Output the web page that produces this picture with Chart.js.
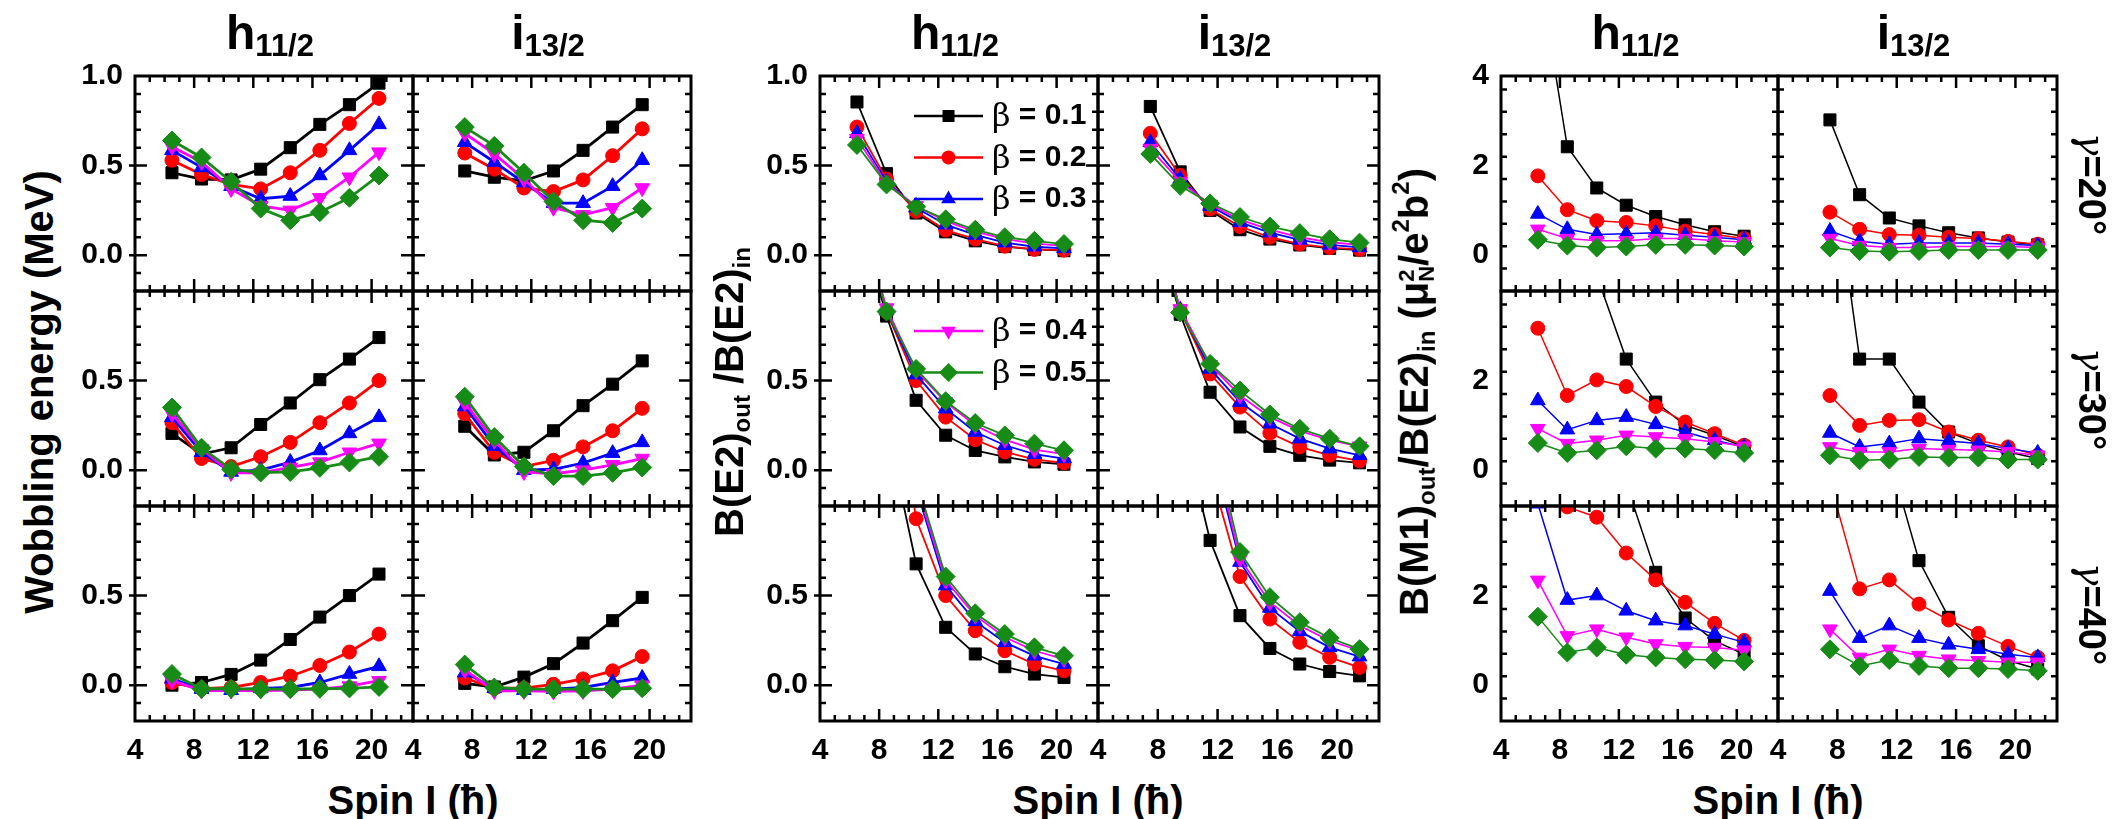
<!DOCTYPE html>
<html>
<head>
<meta charset="utf-8">
<title>Wobbling energy and transition ratios</title>
<script src="https://cdn.jsdelivr.net/npm/chart.js@4.4.1/dist/chart.umd.min.js"></script>
<style>
  html, body { margin: 0; padding: 0; background: #fff; }
  #fig { position: relative; width: 2114px; height: 819px; overflow: hidden;
         font-family: "Liberation Sans", Arial, sans-serif; font-weight: bold; color: #000; }
  #fig canvas { position: absolute; }
  .lbl { position: absolute; white-space: nowrap; line-height: 1; }
  .col { font-size: 48px; transform: translateX(-50%); top: 9px; }
  .col sub { font-size: 31px; vertical-align: -7px; line-height: 0; }
  .ytl { font-size: 40px; transform: translate(-50%, -50%) rotate(-90deg); }
  .ytl sub, .ytl sup { font-size: 0.6em; line-height: 0; }
  .ytl sub { vertical-align: -0.3em; }
  .ytl sup { vertical-align: 0.8em; }
  .mu2 { display: inline-flex; flex-direction: column; font-size: 0.55em; line-height: 0.95; vertical-align: middle; }
  .xtl { font-size: 40px; transform: translate(-50%, -50%); }
  .gam { font-size: 38px; transform: translate(-50%, -50%) rotate(90deg); }
  .gam i { font-family: "DejaVu Serif", serif; font-weight: normal; }
</style>
</head>
<body>
<div id="fig"></div>
<script>
// Spin values (hbar) of the bands
const spinH = [6.5, 8.5, 10.5, 12.5, 14.5, 16.5, 18.5, 20.5];
const spinI = [7.5, 9.5, 11.5, 13.5, 15.5, 17.5, 19.5];
const spinI2 = [7.5, 9.5, 11.5, 13.5, 15.5, 17.5, 19.5, 21.5];

const betas = ['β = 0.1', 'β = 0.2', 'β = 0.3', 'β = 0.4', 'β = 0.5'];
const gammas = ['γ=20°', 'γ=30°', 'γ=40°'];
const xTickVals = [4, 8, 12, 16, 20];
const eTickVals = [0, 0.5, 1.0];
const mTickVals = [0, 2, 4];

// Wobbling energy (MeV), one row per beta (0.1 ... 0.5)
const eH20 = [
  [0.46, 0.425, 0.42, 0.48, 0.60, 0.73, 0.84, 0.96],
  [0.53, 0.45, 0.395, 0.37, 0.46, 0.585, 0.735, 0.875],
  [0.585, 0.49, 0.385, 0.315, 0.33, 0.445, 0.585, 0.73],
  [0.605, 0.52, 0.37, 0.275, 0.25, 0.32, 0.435, 0.575],
  [0.64, 0.545, 0.41, 0.26, 0.195, 0.24, 0.32, 0.445]
];
const eI20 = [
  [0.47, 0.435, 0.415, 0.47, 0.585, 0.715, 0.84],
  [0.57, 0.48, 0.375, 0.355, 0.42, 0.555, 0.705],
  [0.63, 0.52, 0.405, 0.29, 0.29, 0.385, 0.53],
  [0.68, 0.565, 0.425, 0.265, 0.225, 0.265, 0.375],
  [0.715, 0.61, 0.46, 0.30, 0.195, 0.18, 0.26]
];
const eH30 = [
  [0.205, 0.09, 0.125, 0.255, 0.375, 0.505, 0.62, 0.74],
  [0.265, 0.065, 0.02, 0.075, 0.155, 0.265, 0.375, 0.50],
  [0.295, 0.10, -0.01, 0.0, 0.045, 0.11, 0.205, 0.295],
  [0.315, 0.12, -0.015, -0.015, 0.015, 0.045, 0.10, 0.15],
  [0.35, 0.125, 0.005, -0.013, -0.01, 0.013, 0.043, 0.075]
];
const eI30 = [
  [0.245, 0.085, 0.10, 0.22, 0.36, 0.48, 0.61],
  [0.315, 0.10, 0.02, 0.055, 0.13, 0.22, 0.345],
  [0.355, 0.135, 0.0, 0.005, 0.04, 0.095, 0.155],
  [0.375, 0.165, -0.01, -0.02, 0.0, 0.03, 0.065],
  [0.41, 0.185, 0.02, -0.033, -0.033, -0.015, 0.015]
];
const eH40 = [
  [0.0, 0.015, 0.06, 0.14, 0.255, 0.38, 0.50, 0.62],
  [0.015, -0.02, -0.013, 0.015, 0.05, 0.11, 0.185, 0.285],
  [0.035, -0.022, -0.028, -0.018, -0.013, 0.015, 0.062, 0.105],
  [0.025, -0.03, -0.03, -0.03, -0.028, -0.022, -0.005, 0.025],
  [0.062, -0.02, -0.02, -0.022, -0.022, -0.02, -0.018, -0.01]
];
const eI40 = [
  [0.01, -0.01, 0.045, 0.12, 0.235, 0.36, 0.49],
  [0.04, -0.017, -0.017, 0.005, 0.035, 0.08, 0.16],
  [0.07, -0.017, -0.028, -0.022, -0.013, 0.015, 0.04],
  [0.085, -0.032, -0.032, -0.035, -0.032, -0.022, 0.0],
  [0.115, -0.013, -0.022, -0.022, -0.022, -0.022, -0.017]
];

// B(E2)out / B(E2)in
const bH20 = [
  [0.855, 0.455, 0.235, 0.13, 0.08, 0.048, 0.032, 0.025],
  [0.715, 0.425, 0.245, 0.14, 0.09, 0.05, 0.032, 0.028],
  [0.68, 0.41, 0.265, 0.17, 0.113, 0.07, 0.047, 0.038],
  [0.65, 0.40, 0.275, 0.19, 0.132, 0.09, 0.066, 0.051],
  [0.615, 0.395, 0.27, 0.20, 0.142, 0.10, 0.08, 0.062]
];
const bI20 = [
  [0.83, 0.465, 0.25, 0.142, 0.09, 0.057, 0.038, 0.028],
  [0.68, 0.445, 0.258, 0.16, 0.10, 0.062, 0.042, 0.032],
  [0.63, 0.425, 0.274, 0.183, 0.126, 0.085, 0.057, 0.043],
  [0.595, 0.41, 0.283, 0.198, 0.142, 0.10, 0.072, 0.057],
  [0.565, 0.387, 0.289, 0.213, 0.16, 0.123, 0.089, 0.07]
];
const bH30 = [
  [1.45, 0.86, 0.39, 0.195, 0.11, 0.074, 0.046, 0.033],
  [1.5, 0.885, 0.50, 0.296, 0.17, 0.102, 0.06, 0.041],
  [1.5, 0.89, 0.533, 0.343, 0.213, 0.139, 0.089, 0.065],
  [1.5, 0.905, 0.556, 0.38, 0.25, 0.17, 0.115, 0.089],
  [1.5, 0.885, 0.565, 0.385, 0.263, 0.194, 0.148, 0.111]
];
const bI30 = [
  [1.45, 0.87, 0.435, 0.241, 0.133, 0.083, 0.056, 0.041],
  [1.5, 0.89, 0.537, 0.352, 0.207, 0.13, 0.083, 0.052],
  [1.5, 0.895, 0.565, 0.38, 0.259, 0.176, 0.12, 0.083],
  [1.5, 0.9, 0.589, 0.417, 0.296, 0.219, 0.167, 0.133],
  [1.5, 0.88, 0.593, 0.444, 0.311, 0.231, 0.176, 0.133]
];
const bH40 = [
  [3.0, 1.45, 0.677, 0.323, 0.174, 0.103, 0.062, 0.043],
  [4.0, 2.0, 0.929, 0.50, 0.304, 0.192, 0.118, 0.08],
  [4.0, 2.2, 1.1, 0.556, 0.356, 0.239, 0.164, 0.118],
  [4.0, 2.2, 1.12, 0.584, 0.388, 0.267, 0.192, 0.146],
  [4.0, 2.2, 1.15, 0.606, 0.401, 0.285, 0.211, 0.164]
];
const bI40 = [
  [3.0, 1.5, 0.808, 0.388, 0.205, 0.118, 0.076, 0.052],
  [4.0, 2.0, 1.2, 0.606, 0.369, 0.239, 0.155, 0.099],
  [4.0, 2.2, 1.35, 0.687, 0.431, 0.30, 0.211, 0.159],
  [4.0, 2.2, 1.4, 0.705, 0.463, 0.332, 0.248, 0.192],
  [4.0, 2.2, 1.45, 0.743, 0.491, 0.351, 0.263, 0.201]
];

// B(M1)out / B(E2)in  (muN^2 / e^2 b^2)
const mH20 = [
  [6.5, 2.42, 1.5, 1.115, 0.862, 0.677, 0.523, 0.423],
  [1.77, 1.015, 0.77, 0.73, 0.654, 0.538, 0.46, 0.37],
  [0.92, 0.577, 0.46, 0.477, 0.50, 0.446, 0.40, 0.346],
  [0.577, 0.37, 0.323, 0.323, 0.37, 0.37, 0.323, 0.292],
  [0.346, 0.215, 0.169, 0.192, 0.23, 0.23, 0.215, 0.192]
];
const mI20 = [
  [3.02, 1.35, 0.83, 0.654, 0.50, 0.385, 0.292, 0.23],
  [0.96, 0.577, 0.46, 0.446, 0.40, 0.37, 0.308, 0.246],
  [0.538, 0.308, 0.246, 0.27, 0.27, 0.27, 0.246, 0.215],
  [0.37, 0.215, 0.169, 0.169, 0.192, 0.192, 0.192, 0.169],
  [0.169, 0.092, 0.077, 0.092, 0.115, 0.115, 0.115, 0.115]
];
const mH30 = [
  [10, 7, 4.35, 2.48, 1.52, 1.0, 0.778, 0.52],
  [3.17, 1.667, 2.015, 1.867, 1.422, 1.074, 0.815, 0.556],
  [1.556, 0.904, 1.111, 1.185, 1.022, 0.852, 0.667, 0.519],
  [0.926, 0.593, 0.667, 0.778, 0.741, 0.704, 0.63, 0.533],
  [0.607, 0.385, 0.444, 0.533, 0.481, 0.481, 0.444, 0.385]
];
const mI30 = [
  [7.3, 2.48, 2.48, 1.52, 0.852, 0.593, 0.407, 0.259],
  [1.667, 1.0, 1.111, 1.126, 0.852, 0.667, 0.519, 0.333],
  [0.83, 0.519, 0.593, 0.704, 0.652, 0.593, 0.481, 0.385],
  [0.519, 0.407, 0.407, 0.481, 0.459, 0.444, 0.407, 0.333],
  [0.333, 0.222, 0.237, 0.296, 0.281, 0.281, 0.237, 0.237]
];
const mH40 = [
  [14, 10, 7, 4.5, 2.52, 1.5, 0.99, 0.69],
  [5.5, 3.98, 3.75, 2.95, 2.35, 1.85, 1.38, 1.0],
  [4.05, 1.9, 2.0, 1.66, 1.44, 1.33, 1.14, 0.955],
  [2.34, 1.1, 1.25, 1.07, 0.92, 0.86, 0.84, 0.78],
  [1.53, 0.73, 0.84, 0.68, 0.62, 0.58, 0.56, 0.53]
];
const mI40 = [
  [12, 8, 5.1, 2.78, 1.515, 0.88, 0.55, 0.36],
  [4.55, 2.15, 2.35, 1.81, 1.455, 1.157, 0.866, 0.62],
  [2.1, 1.05, 1.33, 1.05, 0.9, 0.8, 0.69, 0.62],
  [1.25, 0.62, 0.8, 0.66, 0.58, 0.545, 0.51, 0.51],
  [0.8, 0.43, 0.56, 0.43, 0.38, 0.38, 0.36, 0.32]
];

// Series styles
const colors = ['#000000', '#ff0000', '#0000ff', '#ff00ff', '#168c16'];
const shapes = ['rect', 'circle', 'triangle', 'triangle', 'rectRot'];
const turns = [0, 0, 0, 180, 0];
const sizes = [8.5, 7, 8.5, 8.5, 9.5];

// Layout (page pixels)
const groupX = [[135, 413, 691], [820, 1098, 1379], [1501, 1778, 2057]];
const rowY = [76, 291, 506, 721];
const yRange = [[-0.2, 1.0, 0.1, 0.5], [-0.2, 1.0, 0.1, 0.5], [-0.8, 4.0, 0.5, 2]];
const lineW = [2.8, 1.8, 1.5];
const yTitleX = [39, 729, 1416];

const colMain = ['h', 'i'];
const colSub = ['11/2', '13/2'];
const yTitles = [
  'Wobbling energy (MeV)',
  'B(E2)<sub>out</sub> /B(E2)<sub>in</sub>',
  'B(M1)<sub>out</sub>/B(E2)<sub>in</sub> (μ<span class="mu2"><span>2</span><span>N</span></span>/e<sup>2</sup>b<sup>2</sup>)'
];
const xTitle = 'Spin I (ħ)';

const panels = [
  { g: 0, r: 0, c: 0, spin: spinH, vals: eH20 }, { g: 0, r: 0, c: 1, spin: spinI, vals: eI20 },
  { g: 0, r: 1, c: 0, spin: spinH, vals: eH30 }, { g: 0, r: 1, c: 1, spin: spinI, vals: eI30 },
  { g: 0, r: 2, c: 0, spin: spinH, vals: eH40 }, { g: 0, r: 2, c: 1, spin: spinI, vals: eI40 },
  { g: 1, r: 0, c: 0, spin: spinH, vals: bH20, legend: [0, 1, 2] }, { g: 1, r: 0, c: 1, spin: spinI2, vals: bI20 },
  { g: 1, r: 1, c: 0, spin: spinH, vals: bH30, legend: [3, 4] }, { g: 1, r: 1, c: 1, spin: spinI2, vals: bI30 },
  { g: 1, r: 2, c: 0, spin: spinH, vals: bH40 }, { g: 1, r: 2, c: 1, spin: spinI2, vals: bI40 },
  { g: 2, r: 0, c: 0, spin: spinH, vals: mH20 }, { g: 2, r: 0, c: 1, spin: spinI2, vals: mI20 },
  { g: 2, r: 1, c: 0, spin: spinH, vals: mH30 }, { g: 2, r: 1, c: 1, spin: spinI2, vals: mI30 },
  { g: 2, r: 2, c: 0, spin: spinH, vals: mH40 }, { g: 2, r: 2, c: 1, spin: spinI2, vals: mI40 }
];

const fig = document.getElementById('fig');
const FONT = '"Liberation Sans", Arial, sans-serif';

// Frame with inward ticks, plus the inset legend
const framePlugin = {
  id: 'frame',
  afterDraw(chart, args, o) {
    const { ctx, chartArea: a } = chart;
    const xs = chart.scales.x, ys = chart.scales.y;
    ctx.save();
    ctx.strokeStyle = '#000';
    ctx.lineWidth = 2.5;
    ctx.beginPath();
    for (let v = 5; v <= 22; v++) {
      const px = xs.getPixelForValue(v);
      const len = v % 4 === 0 ? 12 : 6;
      ctx.moveTo(px, a.bottom); ctx.lineTo(px, a.bottom - len);
      ctx.moveTo(px, a.top); ctx.lineTo(px, a.top + len);
    }
    const n = Math.round((o.yMax - o.yMin) / o.minor);
    for (let k = 1; k < n; k++) {
      const v = o.yMin + k * o.minor;
      const q = v / o.major;
      const major = Math.abs(q - Math.round(q)) < 1e-6;
      const py = ys.getPixelForValue(v);
      const len = major ? 12 : 6;
      ctx.moveTo(a.left - (major && o.outer ? 6 : 0), py); ctx.lineTo(a.left + len, py);
      ctx.moveTo(a.right, py); ctx.lineTo(a.right - len, py);
    }
    ctx.stroke();
    ctx.lineWidth = 3;
    ctx.strokeRect(a.left, a.top, a.right - a.left, a.bottom - a.top);

    if (o.legend) {
      o.legend.forEach((i, k) => {
        const y = a.top + 40 + 41.5 * k;
        const x0 = a.left + 94, x1 = a.left + 163;
        ctx.strokeStyle = colors[i];
        ctx.lineWidth = 2.5;
        ctx.beginPath();
        ctx.moveTo(x0, y); ctx.lineTo(x1, y);
        ctx.stroke();
        ctx.fillStyle = colors[i];
        Chart.helpers.drawPoint(ctx, { pointStyle: shapes[i], rotation: turns[i], radius: sizes[i], borderWidth: 0 }, (x0 + x1) / 2, y);
        ctx.fillStyle = '#000';
        ctx.textBaseline = 'middle';
        ctx.font = 'normal 32px "DejaVu Serif", serif';
        const head = betas[i].slice(0, 1);
        ctx.fillText(head, a.left + 172, y + 2);
        const w = ctx.measureText(head).width;
        ctx.font = 'bold 30px ' + FONT;
        ctx.fillText(betas[i].slice(1), a.left + 172 + w, y);
      });
    }
    ctx.restore();
  }
};

function makePanel(p) {
  const { g, r, c } = p;
  const L = groupX[g][c], R = groupX[g][c + 1], T = rowY[r], B = rowY[r + 1];
  const padL = c === 0 ? 64 : 34, padR = 24, padT = 34, padB = r === 2 ? 56 : 34;
  const W = R - L + padL + padR, H = B - T + padT + padB;
  const cv = document.createElement('canvas');
  cv.width = W; cv.height = H;
  cv.style.left = (L - padL) + 'px';
  cv.style.top = (T - padT) + 'px';
  cv.style.width = W + 'px';
  cv.style.height = H + 'px';
  fig.appendChild(cv);

  const [yMin, yMax, minor, major] = yRange[g];
  const yTicks = g < 2 ? eTickVals : mTickVals;

  const datasets = p.vals.map((vals, i) => ({
    label: betas[i],
    data: p.spin.map((s, j) => ({ x: s, y: vals[j] })),
    borderColor: colors[i],
    borderWidth: lineW[g],
    backgroundColor: colors[i],
    pointStyle: shapes[i],
    pointRotation: turns[i],
    pointRadius: sizes[i],
    pointBackgroundColor: colors[i],
    pointBorderColor: colors[i],
    pointBorderWidth: 1,
    tension: 0,
    fill: false,
    order: 5 - i
  }));

  new Chart(cv, {
    type: 'line',
    data: { datasets },
    options: {
      responsive: false,
      maintainAspectRatio: false,
      animation: false,
      events: [],
      layout: { padding: { left: 0, right: padR, top: padT, bottom: 0 } },
      plugins: {
        legend: { display: false },
        tooltip: { enabled: false },
        frame: { yMin, yMax, minor, major, outer: c === 0, legend: p.legend }
      },
      scales: {
        x: {
          type: 'linear', min: 4, max: 22.8,
          afterBuildTicks: s => { s.ticks = xTickVals.map(v => ({ value: v })); },
          afterFit: s => { s.height = padB; },
          grid: { display: false, drawTicks: false },
          border: { display: false },
          ticks: { display: r === 2, padding: 12, color: '#000', font: { family: FONT, size: 30, weight: 'bold' } }
        },
        y: {
          type: 'linear', min: yMin, max: yMax,
          afterBuildTicks: s => {
            const vals = r === 0 ? yTicks : yTicks.slice(0, 2);
            s.ticks = vals.map(v => ({ value: v }));
          },
          afterFit: s => { s.width = padL; },
          grid: { display: false, drawTicks: false },
          border: { display: false },
          ticks: {
            display: c === 0, padding: 12, color: '#000',
            font: { family: FONT, size: 30, weight: 'bold' },
            callback: v => g < 2 ? Number(v).toFixed(1) : String(v)
          }
        }
      }
    },
    plugins: [framePlugin]
  });
}

function addLabel(cls, html, x, y) {
  const d = document.createElement('div');
  d.className = 'lbl ' + cls;
  d.innerHTML = html;
  d.style.left = x + 'px';
  if (y !== null) d.style.top = y + 'px';
  fig.appendChild(d);
  return d;
}

panels.forEach(makePanel);

// Text around the panels
for (let g = 0; g < 3; g++) {
  for (let c = 0; c < 2; c++) {
    const cx = (groupX[g][c] + groupX[g][c + 1]) / 2 - 4;
    addLabel('col', colMain[c] + '<sub>' + colSub[c] + '</sub>', cx, null);
  }
  addLabel('ytl', yTitles[g], yTitleX[g], 392);
  addLabel('xtl', xTitle, groupX[g][1], 800);
}
gammas.forEach((t, r) => {
  addLabel('gam', '<i>' + t.slice(0, 1) + '</i>' + t.slice(1), 2092, (rowY[r] + rowY[r + 1]) / 2);
});
</script>
</body>
</html>
